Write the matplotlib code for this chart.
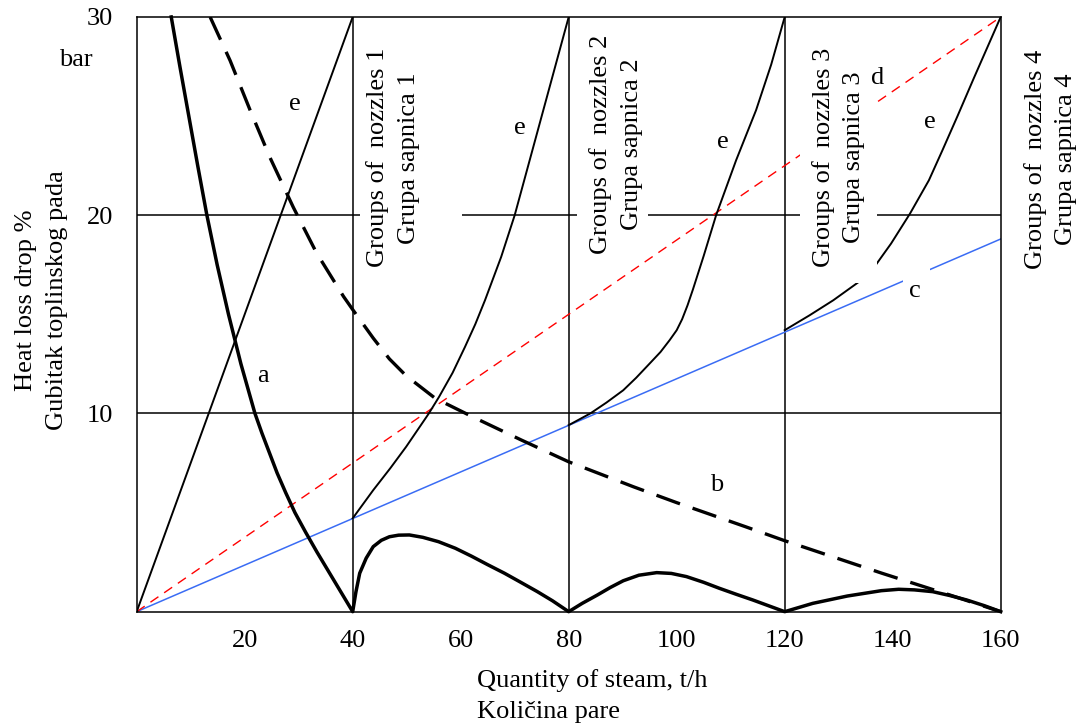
import numpy as np
import matplotlib
matplotlib.use("Agg")
import matplotlib.pyplot as plt
from matplotlib.patches import Rectangle

plt.rcParams['font.family'] = ['Liberation Serif', 'DejaVu Serif']
plt.rcParams['font.size'] = 19

# --- data (t/h, %) ---
# curve a: heat loss, thick solid
a_x = [6.4, 8.0, 9.65, 11.3, 13.0, 14.9, 17.0, 19.3, 21.9, 23.2, 24.6, 26.0,
       27.6, 29.3, 31.3, 33.4, 35.6, 37.8, 40.0,
       40.6, 41.3, 42.5, 43.8, 45.3, 46.8, 48.5, 50.5, 53.0, 55.9, 59.0, 62.0,
       65.0, 68.1, 71.0, 74.2, 77.0, 80.0,
       82.5, 85.3, 87.7, 90.1, 93.0, 96.3, 99.0, 101.8, 105.0, 107.9, 111.0,
       114.1, 117.0, 120.0,
       125.2, 131.6, 137.9, 141.1, 144.0, 147.4, 150.5, 153.7, 157.0, 160.0]
a_y = [30.0, 27.5, 25.0, 22.5, 20.0, 17.5, 15.0, 12.5, 10.0, 9.0, 8.0, 7.0,
       6.0, 5.0, 4.0, 3.0, 2.0, 1.0, 0.0,
       1.0, 1.94, 2.7, 3.28, 3.6, 3.78, 3.86, 3.87, 3.75, 3.53, 3.2, 2.8,
       2.37, 1.94, 1.5, 1.01, 0.55, 0.0,
       0.42, 0.84, 1.22, 1.56, 1.84, 1.97, 1.93, 1.77, 1.48, 1.18, 0.88,
       0.59, 0.3, 0.0,
       0.42, 0.79, 1.06, 1.13, 1.1, 1.01, 0.82, 0.59, 0.3, 0.0]

# curve b: thick dashed
b_x = [13.6, 17.3, 21.0, 24.7, 29.0, 33.3, 38.3, 40.1, 43.8, 46.8, 49.9,
       55.3, 62.2, 71.3, 80.0, 92.0, 100.0, 112.8, 120.0, 138.0, 150.6, 160.0]
b_y = [30.0, 27.8, 25.3, 22.9, 20.4, 18.1, 15.9, 15.2, 13.8, 12.75, 11.9,
       10.76, 9.83, 8.65, 7.56, 6.3, 5.5, 4.28, 3.58, 1.94, 0.84, 0.0]

# line c (blue) and line d (red dashed)
c_x = [0, 160]
c_y = [0, 18.8]
d_x = [0, 160]
d_y = [0, 30]

# curves e, one per nozzle group
e1_x = [0, 40]
e1_y = [0, 30]
e2_x = [40.0, 43.8, 47.0, 49.9, 54.1, 56.0, 58.5, 60.8, 62.7, 64.5, 67.5,
        70.0, 72.5, 75.0, 77.5, 80.0]
e2_y = [4.71, 6.13, 7.25, 8.32, 10.0, 10.84, 12.05, 13.36, 14.5, 15.71, 17.9,
        20.0, 22.5, 25.0, 27.5, 30.0]
e3_x = [80.0, 84.0, 87.0, 90.1, 92.5, 95.0, 97.0, 98.7, 100.0, 101.0, 102.0,
        103.0, 104.0, 105.0, 107.3, 111.0, 114.7, 117.5, 120.0]
e3_y = [9.41, 10.0, 10.55, 11.17, 11.8, 12.52, 13.1, 13.7, 14.2, 14.75, 15.45,
        16.25, 17.1, 17.95, 20.0, 22.77, 25.3, 27.6, 30.0]
e4_x = [120.0, 124.6, 129.0, 133.7, 136.6, 139.7, 143.2, 146.7, 149.2, 152.0,
        155.0, 160.0]
e4_y = [14.2, 14.95, 15.71, 16.63, 17.39, 18.57, 20.08, 21.76, 23.27, 25.0,
        26.9, 30.0]

group_x = [40, 80, 120]
level_y = [10, 20]
x_ticks = [20, 40, 60, 80, 100, 120, 140, 160]
x_minor = [20, 60, 100, 140]
y_ticks = [10, 20, 30]

groups = [("Groups of  nozzles 1\nGrupa sapnica 1", 47.5, 22.9),
          ("Groups of  nozzles 2\nGrupa sapnica 2", 88.8, 23.6),
          ("Groups of  nozzles 3\nGrupa sapnica 3", 130.0, 22.9),
          ("Groups of  nozzles 4\nGrupa sapnica 4", 169.2, 22.8)]
letters = [("e", 29.3, 25.6), ("e", 71.0, 24.4), ("e", 108.6, 23.7),
           ("e", 146.9, 24.7), ("d", 137.3, 26.9), ("c", 144.1, 16.2),
           ("b", 107.4, 6.4), ("a", 23.4, 11.9)]

fig = plt.figure(figsize=(10.78, 7.25), dpi=100)
ax = fig.add_axes([0.1268, 0.1563, 0.8015, 0.8203])
ax.set_xlim(0, 160)
ax.set_ylim(0, 30)

frame_lw = 1.1
for x in group_x:
    ax.axvline(x, color='black', lw=frame_lw, zorder=2)
for y in level_y:
    ax.axhline(y, color='black', lw=frame_lw, zorder=2)

ax.plot(c_x, c_y, color='#3a6cf4', lw=1.1, zorder=3)
ax.plot(d_x, d_y, color='#ff0000', lw=1.0, dashes=(7, 5), zorder=3)
for ex, ey in [(e1_x, e1_y), (e2_x, e2_y), (e3_x, e3_y), (e4_x, e4_y)]:
    ax.plot(ex, ey, color='black', lw=1.4, zorder=3,
            solid_joinstyle='round')
ax.plot(a_x, a_y, color='black', lw=2.5, zorder=3, solid_joinstyle='round',
        clip_on=False)
ax.plot(b_x, b_y, color='black', lw=2.4, dashes=(7.5, 4), zorder=3)

# white masks behind the group captions and the "c" label
masks = [(41.3, 16.5, 60.2), (81.5, 18.0, 94.6), (122.8, 16.6, 137.0)]
for x0, y0, x1 in masks:
    ax.add_patch(Rectangle((x0, y0), x1 - x0, 30 - y0, facecolor='white',
                           edgecolor='none', zorder=4))
ax.add_patch(Rectangle((141.9, 16.0), 5.0, 1.8, facecolor='white',
                       edgecolor='none', zorder=4))

for txt, x, y in groups:
    ax.text(x, y, txt, rotation=90, ha='center', va='center',
            multialignment='center', linespacing=1.5, zorder=5,
            clip_on=False)
for txt, x, y in letters:
    ax.text(x, y, txt, ha='center', va='center', zorder=5)

for s in ax.spines.values():
    s.set_linewidth(frame_lw)
    s.set_zorder(6)

ax.set_xticks(x_ticks)
ax.set_xticklabels([str(v) for v in x_ticks])
ax.set_xticks(x_minor, minor=True)
ax.tick_params(axis='x', which='major', length=0, pad=13)
ax.tick_params(axis='x', which='minor', direction='inout', length=18,
               width=frame_lw)
ax.set_yticks(y_ticks)
ax.set_yticklabels([str(v) for v in y_ticks])
ax.set_yticks([20], minor=True)
ax.tick_params(axis='y', which='major', length=0, pad=17)
ax.tick_params(axis='y', which='minor', direction='out', length=3,
               width=frame_lw)

ax.text(-0.07, 0.928, "bar", transform=ax.transAxes, ha='center',
        va='center')
ax.text(-0.110, 0.524, "Heat loss drop %\nGubitak toplinskog pada",
        transform=ax.transAxes, rotation=90, ha='center', va='center',
        multialignment='center', linespacing=1.5)

fig.text(0.4425, 0.062, "Quantity of steam, t/h", ha='left', va='center')
fig.text(0.4425, 0.018, "Količina pare", ha='left', va='center')

fig.savefig("out.png", dpi=100)
